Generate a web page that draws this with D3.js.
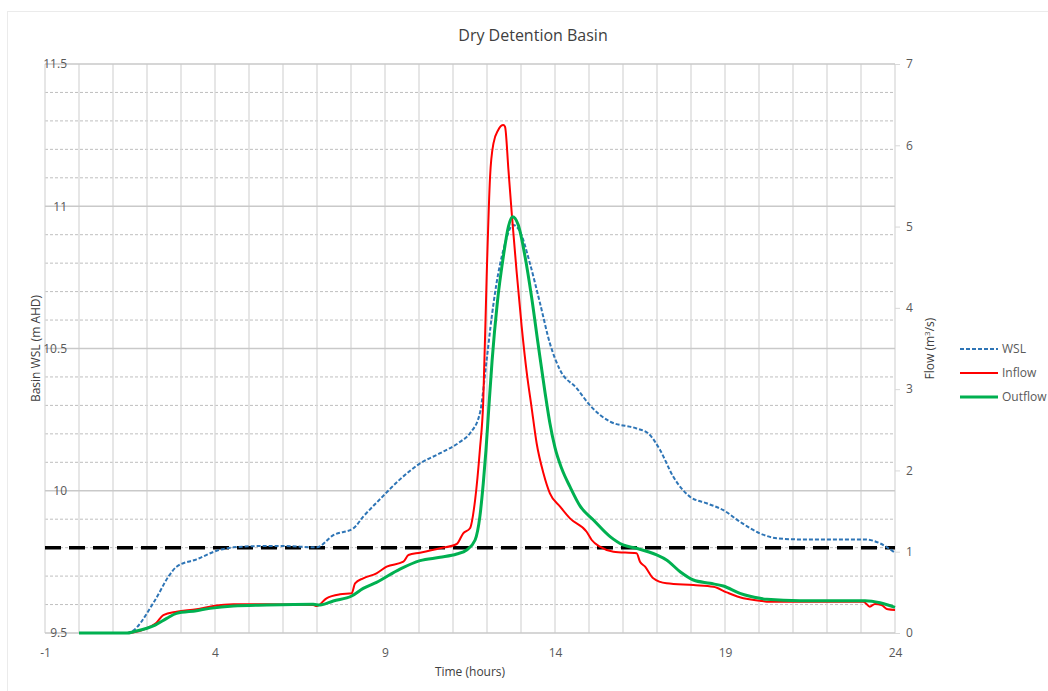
<!DOCTYPE html>
<html>
<head>
<meta charset="utf-8">
<script src="https://cdn.jsdelivr.net/npm/d3@7"></script>
<style>
	body { margin: 0; background: #fff; }
	svg text { font-family: "Open Sans", sans-serif; }
</style>
</head>
<body>
<svg id="chart" width="1048" height="691"></svg>
<script>
// hours vs basin water surface level (m AHD)
var wsl = [
	[0, 9.5], [1.42, 9.5], [2.24, 9.616], [2.63, 9.698], [2.87, 9.733], [3.46, 9.759],
	[4.05, 9.789], [4.54, 9.801], [5.52, 9.806], [6.0, 9.806], [6.99, 9.801], [7.48, 9.844],
	[8.07, 9.868], [8.36, 9.909], [8.85, 9.97], [9.44, 10.04], [10.03, 10.096], [10.62, 10.132],
	[11.21, 10.172], [11.5, 10.202], [11.79, 10.272], [11.99, 10.46], [12.14, 10.612],
	[12.28, 10.729], [12.48, 10.846], [12.77, 10.934], [12.97, 10.911], [13.26, 10.8],
	[13.56, 10.659], [13.85, 10.518], [14.15, 10.424], [14.64, 10.36], [15.03, 10.3],
	[15.62, 10.243], [16.4, 10.219], [16.74, 10.202], [17.09, 10.143], [17.48, 10.049],
	[17.97, 9.979], [18.46, 9.956], [18.95, 9.932], [19.44, 9.891], [20.03, 9.85],
	[20.52, 9.833], [21.21, 9.829], [22.19, 9.829], [23.12, 9.829], [23.56, 9.815], [24, 9.782]
];

// hours vs flow (m3/s)
var inflow = [
	[0, 0], [1.42, 0], [2.09, 0.078], [2.28, 0.127], [2.48, 0.221], [2.87, 0.262], [3.46, 0.291],
	[3.95, 0.332], [4.54, 0.353], [5.52, 0.353], [6.89, 0.344], [6.99, 0.332], [7.28, 0.427],
	[7.68, 0.476], [8.02, 0.488], [8.12, 0.611], [8.36, 0.673], [8.75, 0.734], [9.05, 0.816],
	[9.54, 0.877], [9.69, 0.96], [10.03, 0.988], [10.62, 1.042], [11.11, 1.095], [11.3, 1.226],
	[11.5, 1.288], [11.65, 1.636], [11.79, 2.251], [11.89, 2.85], [11.99, 4.383], [12.09, 5.613],
	[12.19, 6.024], [12.33, 6.188], [12.48, 6.249], [12.53, 6.228], [12.63, 5.7], [12.73, 5.15],
	[12.87, 4.45], [13.02, 3.77], [13.17, 3.2], [13.31, 2.78], [13.46, 2.334], [13.66, 1.965],
	[13.85, 1.718], [14.15, 1.554], [14.44, 1.41], [14.93, 1.246], [15.08, 1.144], [15.32, 1.062],
	[15.72, 1.0], [16.4, 0.98], [16.5, 0.877], [16.65, 0.816], [16.89, 0.673], [17.28, 0.611],
	[18.07, 0.59], [18.66, 0.57], [19.05, 0.5], [19.54, 0.427], [20.03, 0.398], [20.23, 0.385],
	[21.21, 0.385], [23.07, 0.385], [23.26, 0.324], [23.41, 0.357], [23.6, 0.344], [23.79, 0.291],
	[24, 0.283]
];

var outflow = [
	[0, 0], [1.42, 0], [1.6, 0.016], [2.24, 0.098], [2.58, 0.18], [2.87, 0.242], [3.46, 0.275],
	[3.85, 0.303], [4.54, 0.332], [5.52, 0.344], [6.89, 0.353], [7.09, 0.344], [7.48, 0.394],
	[8.02, 0.455], [8.36, 0.549], [8.75, 0.623], [9.44, 0.786], [10.03, 0.89], [10.62, 0.931],
	[11.11, 0.972], [11.4, 1.021], [11.65, 1.144], [11.79, 1.431], [11.89, 1.84], [11.97, 2.25],
	[12.05, 2.75], [12.15, 3.35], [12.3, 4.05], [12.48, 4.63], [12.63, 5.0], [12.75, 5.121],
	[12.92, 5.019], [13.12, 4.629], [13.31, 4.137], [13.5, 3.564], [13.71, 2.95], [13.85, 2.58],
	[14.0, 2.28], [14.2, 2.02], [14.44, 1.8], [14.74, 1.56], [15.13, 1.39], [15.62, 1.185],
	[16.0, 1.083], [16.4, 1.042], [16.99, 0.96], [17.28, 0.898], [17.68, 0.754], [18.07, 0.652],
	[18.56, 0.611], [18.95, 0.578], [19.44, 0.488], [20.03, 0.427], [20.23, 0.414], [21.21, 0.398],
	[23.12, 0.398], [23.56, 0.373], [24, 0.316]
];

var thresholdWsl = 9.8;

var timeTicks = [-1, 4, 9, 14, 19, 24];
var wslTicks = [9.5, 10, 10.5, 11, 11.5];
var flowTicks = [0, 1, 2, 3, 4, 5, 6, 7];

var legendItems = [
	{ name: 'WSL', color: '#2E75B6', width: 2, dash: '4,2' },
	{ name: 'Inflow', color: '#FF0000', width: 2, dash: null },
	{ name: 'Outflow', color: '#00B050', width: 3, dash: null }
];

var svg = d3.select('#chart');

var x = d3.scaleLinear().domain([-1, 24]).range([45, 895]);
var yLeft = d3.scaleLinear().domain([9.5, 11.5]).range([633, 64]);
var yRight = d3.scaleLinear().domain([0, 7]).range([633, 64]);

// chart border
svg.append('rect')
	.attr('x', 7.5).attr('y', 11.5)
	.attr('width', 1050).attr('height', 700)
	.attr('fill', 'none')
	.attr('stroke', '#EBEBEB');

svg.append('text')
	.attr('x', 533).attr('y', 41)
	.attr('text-anchor', 'middle')
	.style('font-size', '16px')
	.style('fill', '#404040')
	.text('Dry Detention Basin');

// gridlines
var grid = svg.append('g');
var minor = d3.range(96, 115).map(function (d) { return d / 10; })
	.filter(function (d) { return Math.abs(d * 2 - Math.round(d * 2)) > 0.01; });

grid.selectAll('line.minor')
	.data(minor)
	.enter().append('line')
	.attr('class', 'minor')
	.attr('x1', x(-1)).attr('x2', x(24))
	.attr('y1', function (d) { return yLeft(d); })
	.attr('y2', function (d) { return yLeft(d); })
	.attr('stroke', '#BFBFBF')
	.attr('stroke-dasharray', '3,2');

grid.selectAll('line.vert')
	.data(d3.range(-1, 25))
	.enter().append('line')
	.attr('class', 'vert')
	.attr('x1', function (d) { return x(d); })
	.attr('x2', function (d) { return x(d); })
	.attr('y1', yLeft(11.5)).attr('y2', yLeft(9.5))
	.attr('stroke', '#D9D9D9')
	.attr('stroke-width', 1.3);

grid.selectAll('line.major')
	.data(wslTicks)
	.enter().append('line')
	.attr('class', 'major')
	.attr('x1', x(-1)).attr('x2', x(24))
	.attr('y1', function (d) { return yLeft(d); })
	.attr('y2', function (d) { return yLeft(d); })
	.attr('stroke', '#C9C9C9')
	.attr('stroke-width', 1.3);

// axes
var plain = function (d) { return String(d); };

var leftAxis = svg.append('g')
	.attr('transform', 'translate(67,0)')
	.call(d3.axisLeft(yLeft).tickValues(wslTicks).tickSize(0).tickPadding(0).tickFormat(plain));

var bottomAxis = svg.append('g')
	.attr('transform', 'translate(0,633)')
	.call(d3.axisBottom(x).tickValues(timeTicks).tickSize(0).tickPadding(15).tickFormat(plain));

var rightAxis = svg.append('g')
	.attr('transform', 'translate(895,0)')
	.call(d3.axisRight(yRight).tickValues(flowTicks).tickSize(5).tickPadding(6).tickFormat(plain));

[leftAxis, bottomAxis, rightAxis].forEach(function (a) {
	a.select('.domain').remove();
	a.selectAll('.tick line').attr('stroke', '#D9D9D9');
	a.selectAll('text').style('font-size', '12px').style('fill', '#595959').attr('font-family', null);
});

svg.append('text')
	.attr('transform', 'translate(40,348.5) rotate(-90)')
	.attr('text-anchor', 'middle')
	.style('font-size', '12px')
	.style('fill', '#404040')
	.text('Basin WSL (m AHD)');

var flowTitle = svg.append('text')
	.attr('transform', 'translate(934,348.5) rotate(-90)')
	.attr('text-anchor', 'middle')
	.style('font-size', '12px')
	.style('fill', '#404040');
flowTitle.append('tspan').text('Flow (m');
flowTitle.append('tspan').attr('dy', -4).style('font-size', '8px').text('3');
flowTitle.append('tspan').attr('dy', 4).text('/s)');

svg.append('text')
	.attr('x', 470).attr('y', 676)
	.attr('text-anchor', 'middle')
	.style('font-size', '12px')
	.style('fill', '#404040')
	.text('Time (hours)');

// basin threshold line
svg.append('line')
	.attr('x1', x(-1)).attr('x2', x(24))
	.attr('y1', yLeft(thresholdWsl)).attr('y2', yLeft(thresholdWsl))
	.attr('stroke', '#000')
	.attr('stroke-width', 3.5)
	.attr('stroke-dasharray', '16,8');

var wslLine = d3.line()
	.x(function (d) { return x(d[0]); })
	.y(function (d) { return yLeft(d[1]); })
	.curve(d3.curveMonotoneX);

var flowLine = d3.line()
	.x(function (d) { return x(d[0]); })
	.y(function (d) { return yRight(d[1]); })
	.curve(d3.curveMonotoneX);

svg.append('path')
	.datum(wsl)
	.attr('d', wslLine)
	.attr('fill', 'none')
	.attr('stroke', legendItems[0].color)
	.attr('stroke-width', legendItems[0].width)
	.attr('stroke-dasharray', legendItems[0].dash);

svg.append('path')
	.datum(inflow)
	.attr('d', flowLine)
	.attr('fill', 'none')
	.attr('stroke', legendItems[1].color)
	.attr('stroke-width', legendItems[1].width);

svg.append('path')
	.datum(outflow)
	.attr('d', flowLine)
	.attr('fill', 'none')
	.attr('stroke', legendItems[2].color)
	.attr('stroke-width', legendItems[2].width);

// legend
var legend = svg.selectAll('g.legend')
	.data(legendItems)
	.enter().append('g')
	.attr('class', 'legend')
	.attr('transform', function (d, i) { return 'translate(960,' + (349 + i * 24) + ')'; });

legend.append('line')
	.attr('x1', 0).attr('x2', 38)
	.attr('stroke', function (d) { return d.color; })
	.attr('stroke-width', function (d) { return d.width; })
	.attr('stroke-dasharray', function (d) { return d.dash; });

legend.append('text')
	.attr('x', 42).attr('dy', '0.35em')
	.style('font-size', '12px')
	.style('fill', '#595959')
	.text(function (d) { return d.name; });
</script>
</body>
</html>
